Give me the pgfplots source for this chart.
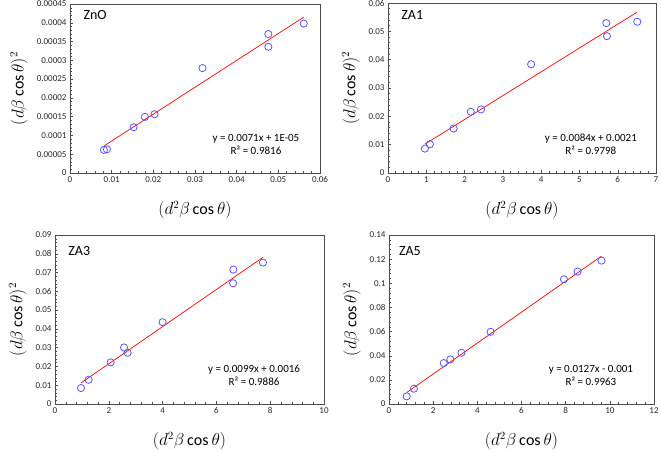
\documentclass[border=0pt]{standalone}
\usepackage{pgfplots}
\pgfplotsset{compat=1.18}
\usepackage{fontspec}
\setmainfont{Carlito}
\definecolor{ptblue}{RGB}{85,85,255}
\tikzset{
 eqlabel/.style={font=\fontsize{11}{13}\selectfont, align=center, text=black},
 paneltitle/.style={font=\fontsize{14}{16}\selectfont, anchor=west, text=black},
}
\pgfplotsset{
 panel/.style={
  scale only axis,
  anchor=south west,
  tick pos=left,
  tick align=inside,
  minor tick num=4,
  major tick length=3pt,
  minor tick length=2pt,
  axis line style={black!70},
  every tick/.style={black!70},
  tick label style={font=\fontsize{9}{10}\selectfont, text=black!85},
  /pgf/number format/assume math mode=true,
  /pgf/number format/fixed,
  /pgf/number format/precision=5,
  scaled ticks=false,
  xlabel={$(d^2\beta\cos\theta)$},
  ylabel={$(d\beta\cos\theta)^2$},
  label style={font=\fontsize{16}{18}\selectfont},
  xlabel style={yshift=-12pt},
  ylabel style={yshift=2pt},
  clip=false,
 },
 pts/.style={only marks, mark=o, mark size=3.6pt, color=ptblue, mark options={line width=0.8pt}},
 fit/.style={red, line width=0.7pt, no marks},
}
\begin{document}
\begin{tikzpicture}
\path[use as bounding box] (0,0) rectangle (661pt,452pt);
% ZnO
\begin{axis}[panel, at={(70pt,279pt)}, width=250pt, height=169pt,
  xmin=0, xmax=0.06, ymin=0, ymax=0.00045,
  xtick={0,0.01,...,0.06}, ytick={0,0.00005,0.0001,0.00015,0.0002,0.00025,0.0003,0.00035,0.0004,0.00045}]
\addplot[fit] coordinates {(0.00815,0.000072) (0.0561,0.000415)};
\addplot[pts] coordinates {(0.00815,0.0000614) (0.00887,0.0000631) (0.01526,0.0001218) (0.01798,0.0001494) (0.02029,0.0001565) (0.0318,0.0002793) (0.0476,0.00037) (0.0476,0.000336) (0.0561,0.000398)};
\node[paneltitle] at (rel axis cs:0.04,0.935) {ZnO};
\node[eqlabel] at (rel axis cs:0.744,0.166) {y = 0.0071x + 1E-05\\R² = 0.9816};
\end{axis}
% ZA1
\begin{axis}[panel, at={(388pt,279pt)}, width=268pt, height=170pt,
  xmin=0, xmax=7, ymin=0, ymax=0.06,
  xtick={0,1,...,7}, ytick={0,0.01,0.02,0.03,0.04,0.05,0.06}]
\addplot[fit] coordinates {(0.965,0.0102) (6.511,0.0568)};
\addplot[pts] coordinates {(0.965,0.00862) (1.094,0.01016) (1.714,0.01571) (2.162,0.02161) (2.429,0.02244) (3.738,0.03838) (5.702,0.05291) (5.719,0.0483) (6.511,0.05338)};
\node[paneltitle] at (rel axis cs:0.037,0.93) {ZA1};
\node[eqlabel] at (rel axis cs:0.757,0.168) {y = 0.0084x + 0.0021\\R² = 0.9798};
\end{axis}
% ZA3
\begin{axis}[panel, at={(55pt,48pt)}, width=269pt, height=169pt,
  xmin=0, xmax=10, ymin=0, ymax=0.09,
  xtick={0,2,...,10}, ytick={0,0.01,0.02,0.03,0.04,0.05,0.06,0.07,0.08,0.09}]
\addplot[fit] coordinates {(0.967,0.0112) (7.73,0.0781)};
\addplot[pts] coordinates {(0.967,0.0085) (1.25,0.01293) (2.07,0.02215) (2.565,0.03012) (2.70,0.02729) (4.00,0.04358) (6.62,0.06431) (6.63,0.07158) (7.73,0.0753)};
\node[paneltitle] at (rel axis cs:0.037,0.905) {ZA3};
\node[eqlabel] at (rel axis cs:0.74,0.172) {y = 0.0099x + 0.0016\\R² = 0.9886};
\end{axis}
% ZA5
\begin{axis}[panel, at={(389pt,48pt)}, width=265pt, height=169pt,
  xmin=0, xmax=12, ymin=0, ymax=0.14,
  xtick={0,2,...,12}, ytick={0,0.02,0.04,0.06,0.08,0.1,0.12,0.14}]
\addplot[fit] coordinates {(0.802,0.0095) (9.62,0.1225)};
\addplot[pts] coordinates {(0.802,0.00634) (1.129,0.01268) (2.48,0.0339) (2.777,0.03693) (3.28,0.04244) (4.60,0.0598) (7.92,0.1033) (8.54,0.1097) (9.62,0.1188)};
\node[paneltitle] at (rel axis cs:0.025,0.905) {ZA5};
\node[eqlabel] at (rel axis cs:0.762,0.169) {y = 0.0127x - 0.001\\R² = 0.9963};
\end{axis}
\end{tikzpicture}
\end{document}
